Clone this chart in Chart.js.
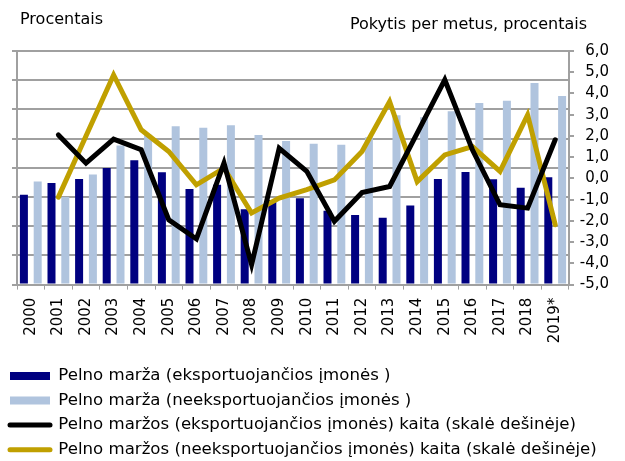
<!DOCTYPE html>
<html>
<head>
<meta charset="utf-8">
<script src="https://cdn.jsdelivr.net/npm/chart.js@4"></script>
<style>
  html, body { margin: 0; padding: 0; background: #fff; }
  #wrap { width: 625px; height: 461px; }
</style>
</head>
<body>
<div id="wrap"><canvas id="myChart" width="625" height="461"></canvas></div>
<script>
const years = ["2000", "2001", "2002", "2003", "2004", "2005", "2006", "2007", "2008", "2009",
  "2010", "2011", "2012", "2013", "2014", "2015", "2016", "2017", "2018", "2019*"];

// kairė skalė (be skaičių)
const marzaEksp = [3.08, 3.48, 3.62, 3.99, 4.26, 3.85, 3.27, 3.42, 2.58, 2.9,
  2.96, 2.53, 2.38, 2.29, 2.71, 3.62, 3.86, 3.61, 3.32, 3.68];
const marzaNeeksp = [3.53, 3.0, 3.77, 4.76, 5.13, 5.42, 5.37, 5.46, 5.12, 4.92,
  4.82, 4.79, 5.05, 5.8, 5.73, 5.94, 6.22, 6.3, 6.9, 6.46];

// dešinė skalė
const kaitaEksp = [null, 2.05, 0.72, 1.85, 1.35, -1.95, -2.85, 0.72, -4.06, 1.42,
  0.33, -2.02, -0.66, -0.38, 2.13, 4.64, 1.35, -1.24, -1.4, 1.82];
const kaitaNeeksp = [null, -0.88, 2.0, 4.87, 2.29, 1.27, -0.3, 0.48, -1.63, -0.93,
  -0.53, -0.07, 1.27, 3.62, -0.15, 1.11, 1.5, 0.33, 2.99, -2.18];

const fontFamily = "'DejaVu Sans', Verdana, sans-serif";
const gridColor = "#a0a0a0";

const canvas = document.getElementById("myChart");
const ctx = canvas.getContext("2d");

// antraštės viršuje
const topTexts = {
  id: "topTexts",
  afterDraw(chart) {
    const c = chart.ctx;
    c.save();
    c.fillStyle = "#000";
    c.font = "16px " + fontFamily;
    c.textBaseline = "middle";
    c.textAlign = "left";
    c.fillText("Procentais", 20, 20);
    c.textAlign = "right";
    c.fillText("Pokytis per metus, procentais", 587, 25);
    c.restore();
  }
};

Chart.defaults.font.family = fontFamily;
Chart.defaults.color = "#000";

let myChart = new Chart(ctx, {
  type: "bar",
  data: {
    labels: years,
    datasets: [
      {
        label: "Pelno marža (eksportuojančios įmonės )",
        data: marzaEksp,
        backgroundColor: "#000080",
        borderWidth: 0,
        yAxisID: "y",
        order: 2,
        barPercentage: 0.58,
        categoryPercentage: 1.0
      },
      {
        label: "Pelno marža (neeksportuojančios įmonės )",
        data: marzaNeeksp,
        backgroundColor: "#b0c4de",
        borderWidth: 0,
        yAxisID: "y",
        order: 2,
        barPercentage: 0.58,
        categoryPercentage: 1.0
      },
      {
        type: "line",
        label: "Pelno maržos (eksportuojančios įmonės) kaita (skalė dešinėje)",
        data: kaitaEksp,
        borderColor: "#000000",
        backgroundColor: "#000000",
        borderWidth: 5,
        borderCapStyle: "round",
        borderJoinStyle: "miter",
        pointRadius: 0,
        tension: 0,
        yAxisID: "y1",
        order: 0
      },
      {
        type: "line",
        label: "Pelno maržos (neeksportuojančios įmonės) kaita (skalė dešinėje)",
        data: kaitaNeeksp,
        borderColor: "#c0a000",
        backgroundColor: "#c0a000",
        borderWidth: 5,
        borderCapStyle: "round",
        borderJoinStyle: "miter",
        pointRadius: 0,
        tension: 0,
        yAxisID: "y1",
        order: 1
      }
    ]
  },
  options: {
    responsive: false,
    animation: false,
    layout: {
      padding: { left: 2, right: 16, top: 51, bottom: -7 }
    },
    plugins: {
      tooltip: { enabled: false },
      legend: {
        position: "bottom",
        align: "start",
        labels: {
          usePointStyle: true,
          pointStyleWidth: 40,
          boxHeight: 8,
          padding: 8,
          font: { size: 16.6 },
          color: "#000",
          generateLabels(chart) {
            const items = Chart.defaults.plugins.legend.labels.generateLabels(chart);
            items.sort((a, b) => a.datasetIndex - b.datasetIndex);
            items.forEach(it => {
              const ds = chart.data.datasets[it.datasetIndex];
              if (ds.type === "line") {
                it.pointStyle = "line";
                it.lineWidth = 5;
                it.lineCap = "round";
                it.strokeStyle = ds.borderColor;
              } else {
                it.pointStyle = "rect";
                it.lineWidth = 0;
                it.fillStyle = ds.backgroundColor;
              }
            });
            return items;
          }
        }
      }
    },
    scales: {
      x: {
        grid: {
          display: true,
          drawOnChartArea: false,
          drawTicks: true,
          tickLength: 5,
          color: gridColor,
          offset: true
        },
        border: { color: gridColor, width: 2 },
        ticks: {
          minRotation: 90,
          maxRotation: 90,
          font: { size: 15 },
          padding: 8,
          autoSkip: false
        },
        afterFit(scale) { scale.height = 75; }
      },
      y: {
        position: "left",
        min: 0,
        max: 8,
        grid: {
          color: gridColor,
          lineWidth: 2,
          tickLength: 5
        },
        border: { color: gridColor, width: 2 },
        ticks: { display: false, stepSize: 1 },
        afterFit(scale) { scale.width = 15; }
      },
      y1: {
        position: "right",
        min: -5,
        max: 6,
        grid: {
          drawOnChartArea: false,
          color: gridColor,
          lineWidth: 2,
          tickLength: 5
        },
        border: { color: gridColor, width: 2 },
        ticks: {
          stepSize: 1,
          autoSkip: false,
          font: { size: 15 },
          crossAlign: "far",
          callback: v => v.toFixed(1).replace(".", ",")
        },
        afterFit(scale) { scale.width = 40; }
      }
    }
  },
  plugins: [topTexts]
});
</script>
</body>
</html>
